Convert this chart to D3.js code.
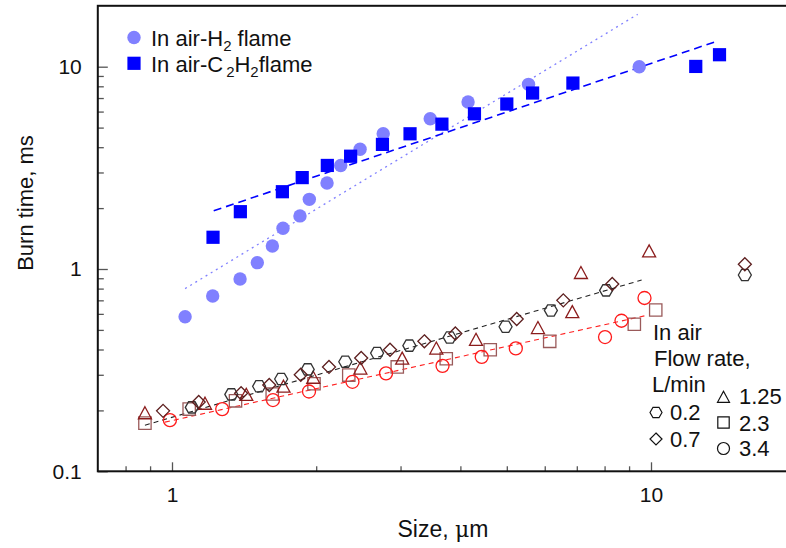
<!DOCTYPE html>
<html>
<head>
<meta charset="utf-8">
<script src="https://cdn.jsdelivr.net/npm/d3@7/dist/d3.min.js"></script>
<style>
  body { margin: 0; background: #fff; }
  svg { font-family: "Liberation Sans", Arial, sans-serif; }
</style>
</head>
<body>
<svg id="chart"></svg>
<script>
const width = 786;
const height = 548;

// in air-H2 flame
const h2Size = [1.065, 1.216, 1.387, 1.507, 1.62, 1.705, 1.85, 1.935, 2.107, 2.25, 2.47, 2.76, 3.46, 4.15, 5.55, 9.45];
const h2Time = [0.581, 0.735, 0.892, 1.075, 1.30, 1.59, 1.83, 2.21, 2.66, 3.25, 3.91, 4.66, 5.53, 6.69, 8.18, 10.0];
// in air-C2H2 flame
const c2Size = [1.218, 1.389, 1.70, 1.87, 2.11, 2.36, 2.75, 3.14, 3.66, 4.28, 5.0, 5.66, 6.87, 12.4, 13.9];
const c2Time = [1.435, 1.92, 2.41, 2.83, 3.25, 3.61, 4.13, 4.66, 5.20, 5.85, 6.54, 7.41, 8.30, 10.03, 11.46];

// in air, by flow rate (L/min)
const f02Size = [1.10, 1.33, 1.52, 1.69, 1.92, 2.30, 2.68, 3.13, 3.80, 4.97, 6.18, 8.06, 15.7];
const f02Time = [0.207, 0.240, 0.263, 0.286, 0.319, 0.348, 0.384, 0.418, 0.459, 0.518, 0.624, 0.784, 0.934];
const f07Size = [0.958, 1.137, 1.394, 1.596, 1.857, 2.127, 2.483, 2.852, 3.364, 3.904, 5.244, 6.56, 8.30, 15.7];
const f07Time = [0.199, 0.220, 0.243, 0.267, 0.300, 0.328, 0.363, 0.399, 0.439, 0.480, 0.566, 0.700, 0.843, 1.056];
const f125Size = [0.878, 1.172, 1.429, 1.709, 1.972, 2.473, 3.024, 3.563, 4.312, 5.807, 6.85, 7.14, 9.91];
const f125Time = [0.193, 0.215, 0.238, 0.261, 0.289, 0.321, 0.359, 0.403, 0.445, 0.509, 0.610, 0.952, 1.218];
const f23Size = [0.878, 1.086, 1.357, 1.619, 1.979, 2.339, 2.953, 3.737, 4.617, 6.145, 9.229, 10.23];
const f23Time = [0.173, 0.203, 0.223, 0.241, 0.271, 0.299, 0.328, 0.360, 0.399, 0.439, 0.533, 0.627];
const f34Size = [0.99, 1.273, 1.625, 1.932, 2.381, 2.798, 3.671, 4.432, 5.221, 8.017, 8.677, 9.692];
const f34Time = [0.179, 0.203, 0.225, 0.248, 0.277, 0.305, 0.332, 0.368, 0.405, 0.461, 0.555, 0.719];

// fit lines (end points)
const h2FitSize = [1.065, 9.38];
const h2FitTime = [0.80, 18.15];
const c2FitSize = [1.222, 13.71];
const c2FitTime = [1.94, 13.35];
const f02FitSize = [0.878, 9.56];
const f02FitTime = [0.169, 0.882];
const f34FitSize = [0.967, 9.86];
const f34FitTime = [0.175, 0.592];

const xMajor = [1, 10];
const xMinor = [0.8, 0.9, 2, 3, 4, 5, 6, 7, 8, 9];
const yMajor = [0.1, 1, 10];
const yMinor = [0.2, 0.3, 0.4, 0.5, 0.6, 0.7, 0.8, 0.9, 2, 3, 4, 5, 6, 7, 8, 9];
const flowLabels = ['0.2', '0.7', '1.25', '2.3', '3.4'];

const zip = (a, b) => a.map((v, i) => [v, b[i]]);

const svg = d3.select('#chart')
    .attr('width', width)
    .attr('height', height);

const scaleX = d3.scaleLog().domain([0.7, 20]).range([97.8, 795.2]);
const scaleY = d3.scaleLog().domain([0.1, 20]).range([471.3, 5.8]);

// marker shapes
const shape = (kind, s) => {
  if (kind === 'hex') {
    const a = s, b = s / 2, h = s * 0.866;
    return `M${-a},0L${-b},${-h}L${b},${-h}L${a},0L${b},${h}L${-b},${h}Z`;
  }
  if (kind === 'diamond') return `M0,${-s}L${s},0L0,${s}L${-s},0Z`;
  if (kind === 'tri') return `M0,${-s * 1.05}L${s},${s * 0.8}L${-s},${s * 0.8}Z`;
  if (kind === 'square') return `M${-s * 0.95},${-s * 0.95}H${s * 0.95}V${s * 0.95}H${-s * 0.95}Z`;
  return d3.arc()({innerRadius: 0, outerRadius: s, startAngle: 0, endAngle: 2 * Math.PI});
};

// axes
const xAxisMajor = d3.axisBottom(scaleX).tickValues(xMajor).tickSize(-9).tickSizeOuter(0)
    .tickPadding(16).tickFormat(d3.format('~g'));
const xAxisMinor = d3.axisBottom(scaleX).tickValues(xMinor).tickSize(-5).tickSizeOuter(0).tickFormat('');
const yAxisMajor = d3.axisLeft(scaleY).tickValues(yMajor).tickSize(-10).tickSizeOuter(0)
    .tickPadding(16).tickFormat(d3.format('~g'));
const yAxisMinor = d3.axisLeft(scaleY).tickValues(yMinor).tickSize(-6).tickSizeOuter(0).tickFormat('');

[xAxisMajor, xAxisMinor].forEach(ax => {
  svg.append('g').attr('transform', `translate(0,${scaleY.range()[0]})`).call(ax)
    .call(g => g.select('.domain').remove())
    .call(g => g.selectAll('line').attr('stroke', '#555').attr('stroke-width', 1.3))
    .call(g => g.selectAll('text').attr('font-size', 21).attr('fill', '#111')
      .attr('font-family', '"Liberation Sans", Arial, sans-serif'));
});
[yAxisMajor, yAxisMinor].forEach(ax => {
  svg.append('g').attr('transform', `translate(${scaleX.range()[0]},0)`).call(ax)
    .call(g => g.select('.domain').remove())
    .call(g => g.selectAll('line').attr('stroke', '#555').attr('stroke-width', 1.3))
    .call(g => g.selectAll('text').attr('font-size', 21).attr('fill', '#111')
      .attr('font-family', '"Liberation Sans", Arial, sans-serif'));
});

// frame
svg.append('rect')
    .attr('x', scaleX.range()[0])
    .attr('y', scaleY.range()[1])
    .attr('width', scaleX.range()[1] - scaleX.range()[0])
    .attr('height', scaleY.range()[0] - scaleY.range()[1])
    .attr('fill', 'none')
    .attr('stroke', '#111')
    .attr('stroke-width', 2);

const line = d3.line().x(d => scaleX(d[0])).y(d => scaleY(d[1]));

const fits = [
  {xs: h2FitSize, ys: h2FitTime, color: '#8080ff', dash: '2,4', w: 1.3},
  {xs: c2FitSize, ys: c2FitTime, color: '#0000ff', dash: '8,5', w: 1.6},
  {xs: f02FitSize, ys: f02FitTime, color: '#222', dash: '5,4', w: 1.1},
  {xs: f34FitSize, ys: f34FitTime, color: '#ff2020', dash: '5,4', w: 1.1}
];
fits.forEach(f => {
  svg.append('path')
      .attr('d', line(zip(f.xs, f.ys)))
      .attr('fill', 'none')
      .attr('stroke', f.color)
      .attr('stroke-width', f.w)
      .attr('stroke-dasharray', f.dash);
});

// hollow markers
const hollow = [
  {xs: f23Size, ys: f23Time, kind: 'square', color: '#9a5a5a'},
  {xs: f125Size, ys: f125Time, kind: 'tri', color: '#8b1c1c'},
  {xs: f34Size, ys: f34Time, kind: 'circle', color: '#ff1a1a'},
  {xs: f02Size, ys: f02Time, kind: 'hex', color: '#333'},
  {xs: f07Size, ys: f07Time, kind: 'diamond', color: '#5c1e1e'}
];
hollow.forEach(s => {
  svg.append('g').selectAll('path')
    .data(zip(s.xs, s.ys))
    .enter()
    .append('path')
      .attr('d', shape(s.kind, 6.5))
      .attr('transform', d => `translate(${scaleX(d[0])},${scaleY(d[1])})`)
      .attr('fill', 'none')
      .attr('stroke', s.color)
      .attr('stroke-width', 1.3);
});

// filled markers
svg.append('g').selectAll('circle')
  .data(zip(h2Size, h2Time))
  .enter()
  .append('circle')
    .attr('cx', d => scaleX(d[0]))
    .attr('cy', d => scaleY(d[1]))
    .attr('r', 6.7)
    .attr('fill', '#8080ff');

svg.append('g').selectAll('rect')
  .data(zip(c2Size, c2Time))
  .enter()
  .append('rect')
    .attr('x', d => scaleX(d[0]) - 6.6)
    .attr('y', d => scaleY(d[1]) - 6.6)
    .attr('width', 13.2)
    .attr('height', 13.2)
    .attr('fill', '#0000ff');

// top-left legend
svg.append('circle').attr('cx', 134).attr('cy', 37.5).attr('r', 6.7).attr('fill', '#8080ff');
svg.append('rect').attr('x', 127.4).attr('y', 56.7).attr('width', 13.2).attr('height', 13.2).attr('fill', '#0000ff');

const t1 = svg.append('text').attr('x', 151).attr('y', 45.5).attr('font-size', 22).attr('fill', '#111');
t1.append('tspan').text('In air-H');
t1.append('tspan').attr('font-size', 15).attr('dy', 5).text('2');
t1.append('tspan').attr('dy', -5).text(' flame');

const t2 = svg.append('text').attr('x', 151).attr('y', 71.5).attr('font-size', 22).attr('fill', '#111');
t2.append('tspan').text('In air-C');
t2.append('tspan').attr('font-size', 15).attr('dy', 5).attr('dx', 3).text('2');
t2.append('tspan').attr('dy', -5).text('H');
t2.append('tspan').attr('font-size', 15).attr('dy', 5).text('2');
t2.append('tspan').attr('dy', -5).text('flame');

// bottom-right legend
const lg = svg.append('g').attr('font-size', 22).attr('fill', '#111');
lg.append('text').attr('x', 653).attr('y', 340).text('In air');
lg.append('text').attr('x', 654).attr('y', 366).text('Flow rate,');
lg.append('text').attr('x', 652).attr('y', 392).text('L/min');

const legendItems = [
  {kind: 'hex', cx: 656, cy: 412.5, tx: 670, ty: 420, label: flowLabels[0]},
  {kind: 'diamond', cx: 656, cy: 439, tx: 670, ty: 446.5, label: flowLabels[1]},
  {kind: 'tri', cx: 723.5, cy: 397.5, tx: 739, ty: 404, label: flowLabels[2]},
  {kind: 'square', cx: 723.5, cy: 422.5, tx: 739, ty: 430.5, label: flowLabels[3]},
  {kind: 'circle', cx: 723.5, cy: 448.5, tx: 739, ty: 456, label: flowLabels[4]}
];
legendItems.forEach(it => {
  lg.append('path')
      .attr('d', shape(it.kind, 6))
      .attr('transform', `translate(${it.cx},${it.cy})`)
      .attr('fill', 'none')
      .attr('stroke', '#111')
      .attr('stroke-width', 1.2);
  lg.append('text').attr('x', it.tx).attr('y', it.ty).text(it.label);
});

// axis titles
svg.append('text')
    .attr('transform', 'translate(33,203) rotate(-90)')
    .attr('text-anchor', 'middle')
    .attr('font-size', 22)
    .attr('fill', '#111')
    .text('Burn time, ms');

const xt = svg.append('text')
    .attr('x', 443)
    .attr('y', 537)
    .attr('text-anchor', 'middle')
    .attr('font-size', 23)
    .attr('fill', '#111');
xt.append('tspan').text('Size, ');
xt.append('tspan').attr('font-family', '"DejaVu Serif", serif').attr('font-size', 22).text('μ');
xt.append('tspan').text('m');
</script>
</body>
</html>
